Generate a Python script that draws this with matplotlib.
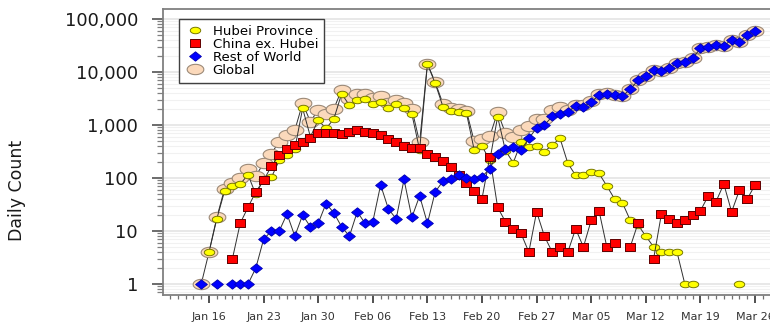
import numpy as np
import pandas as pd
import matplotlib
matplotlib.use("Agg")
import matplotlib.pyplot as plt
import matplotlib.dates as mdates
from matplotlib.ticker import LogLocator, FuncFormatter, NullFormatter
from matplotlib.lines import Line2D

nan = np.nan
dates = pd.date_range("2020-01-15", "2020-03-26", freq="D")

hubei = [nan, 4, 17, 57, 72, 77, 115, 49, 95, 103, 215, 275, 355, 2060, 600,
         1240, 860, 1300, 3900, 2350, 3000, 3050, 2490, 2760, 2060, 2490, 2060,
         1620, 340, 14100, 6100, 2200, 1850, 1770, 1680, 338, 400, 215, 1430,
         330, 194, 470, 388, 395, 315, 420, 560, 190, 112, 112, 132, 122, 71,
         40, 34, 16, 13, 8, 5, 4, 4, 4, 1, 1, nan, nan, nan, nan, nan, 1, nan, nan]

china_ex_hubei = [nan, nan, nan, nan, 3, 14, 28, 55, 90, 168, 270, 360, 420, 485,
                  560, 700, 720, 700, 690, 750, 800, 750, 700, 650, 545, 470, 410,
                  370, 362, 280, 248, 205, 160, 115, 80, 56, 41, 250, 28, 15, 11,
                  9, 4, 23, 8, 4, 5, 4, 11, 5, 16, 24, 5, 6, nan, 5, 14, nan, 3,
                  21, 17, 14, 16, 20, 24, 46, 36, 77, 23, 59, 40, 74]

rest_of_world = [1, nan, 1, nan, 1, 1, 1, 2, 7, 10, 10, 21, 8, 20, 12, 14, 33, 22,
                 12, 8, 23, 14, 15, 74, 26, 17, 94, 18, 46, 14, 55, 87, 94, 115,
                 100, 95, 106, 150, 290, 350, 385, 335, 560, 880, 1000, 1450, 1630,
                 1770, 2300, 2230, 2670, 3700, 3860, 3700, 3530, 4700, 7000, 8300,
                 10900, 10600, 11700, 14600, 15700, 18000, 28000, 30000, 32000,
                 31000, 41000, 37000, 50000, 60000]

global_ = [1, 4, 18, 63, 82, 100, 150, 110, 190, 290, 485, 650, 800, 2570, 1150,
           1950, 1640, 2020, 4600, 3100, 3800, 3800, 3200, 3500, 2650, 3000, 2570,
           2020, 470, 14400, 6400, 2500, 2100, 2000, 1860, 490, 550, 615, 1750,
           700, 590, 810, 950, 1300, 1320, 1880, 2200, 1960, 2420, 2350, 2820,
           3850, 3940, 3750, 3560, 4720, 7030, 8310, 10900, 10630, 11720, 14620,
           15720, 18020, 28020, 30050, 32040, 31080, 41020, 37060, 50040, 60070]

labels = ["Hubei Province", "China ex. Hubei", "Rest of World", "Global"]

# stretched marker shapes (reference image is horizontally stretched)
t = np.linspace(0, 2 * np.pi, 48)
ellipse = list(zip(np.cos(t), 0.62 * np.sin(t)))
square = [(-1, -0.85), (1, -0.85), (1, 0.85), (-1, 0.85), (-1, -0.85)]
diamond = [(0, -0.8), (1, 0), (0, 0.8), (-1, 0), (0, -0.8)]

W, H = 770, 326
fig = plt.figure(figsize=(W / 100, H / 100), dpi=100)
ax = fig.add_axes([163 / W, (H - 295) / H, 630 / W, (295 - 9) / H])

x = mdates.date2num(dates)
line_kw = dict(color="#303030", lw=0.7)

styles = [
    dict(marker=ellipse, ms=12, mfc="#fbd9bb", mec="#9c8a78", mew=0.8),     # Global
    dict(marker=ellipse, ms=7.5, mfc="#ffff00", mec="#7a7a00", mew=0.7),    # Hubei
    dict(marker=square, ms=6.8, mfc="#ff0000", mec="#600000", mew=0.7),     # China ex Hubei
    dict(marker=diamond, ms=8.5, mfc="#0000ff", mec="#0000b0", mew=0.6),    # ROW
]
series = [global_, hubei, china_ex_hubei, rest_of_world]
for i, (vals, st) in enumerate(zip(series, styles)):
    ax.plot(x, np.array(vals, dtype=float), zorder=3 + i, **line_kw, **st)

ax.set_yscale("log")
ax.set_ylim(10 ** -0.2075, 10 ** 5.189)
x0 = mdates.date2num(pd.Timestamp("2020-01-15")) - 4.9
ax.set_xlim(x0, x0 + 630 / 7.8)

ax.yaxis.set_major_locator(LogLocator(base=10, numticks=10))
ax.yaxis.set_minor_locator(LogLocator(base=10, subs=np.arange(2, 10), numticks=20))
ax.yaxis.set_major_formatter(FuncFormatter(lambda v, p: f"{int(round(v)):,}"))
ax.yaxis.set_minor_formatter(NullFormatter())

major_dates = pd.date_range("2020-01-16", "2020-03-26", freq="7D")
ax.set_xticks(mdates.date2num(major_dates))
ax.xaxis.set_major_formatter(mdates.DateFormatter("%b %d"))
ax.xaxis.set_minor_locator(mdates.DayLocator())

ax.grid(True, axis="y", which="major", color="#e4e4e4", lw=1.2, zorder=0)
ax.grid(True, axis="y", which="minor", color="#f1f1f1", lw=0.8, zorder=0)
ax.set_axisbelow(True)

for s in ax.spines.values():
    s.set_color("#808080")
    s.set_linewidth(1.3)

ax.tick_params(axis="y", which="major", length=8, width=1.3, color="#606060",
               pad=10, labelsize=13, labelcolor="#1a1a1a")
ax.tick_params(axis="y", which="minor", length=4.3, width=0.9, color="#808080")
ax.tick_params(axis="x", which="major", length=5.8, width=1.4, color="#505050",
               pad=6.5, labelsize=8, labelcolor="#333333")
ax.tick_params(axis="x", which="minor", length=3, width=0.9, color="#707070")

fig.text(17 / W, 1 - 190 / H, "Daily Count", rotation=90, ha="center",
         va="center", fontsize=12.5, color="#1a1a1a")

handles = [
    Line2D([], [], ls="none", **styles[1]),
    Line2D([], [], ls="none", **styles[2]),
    Line2D([], [], ls="none", **styles[3]),
    Line2D([], [], ls="none", **styles[0]),
]
leg = ax.legend(handles, labels, loc="upper left",
                bbox_to_anchor=(179 / W, 1 - 19 / H), bbox_transform=fig.transFigure,
                borderaxespad=0, fontsize=9.5, frameon=True, fancybox=False,
                framealpha=1, edgecolor="#404040", borderpad=0.45,
                handlelength=1.6, handletextpad=0.5, labelspacing=0.0)
leg.get_frame().set_linewidth(1.0)
leg.set_zorder(10)

fig.savefig("out.png", dpi=100)
